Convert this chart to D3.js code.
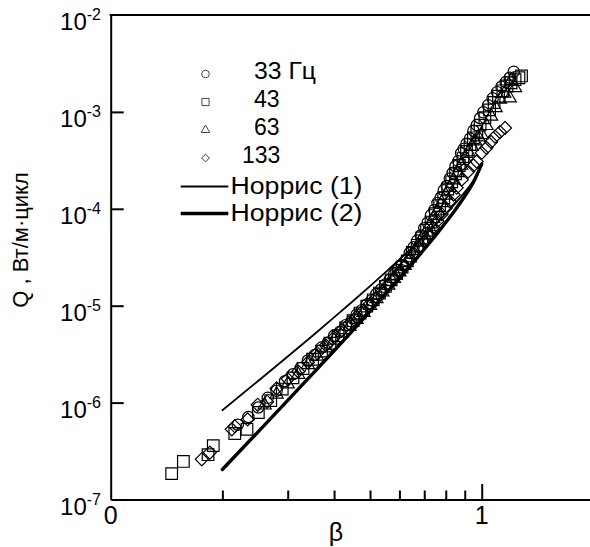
<!DOCTYPE html>
<html>
<head>
<meta charset="utf-8">
<script src="https://cdn.jsdelivr.net/npm/d3@7"></script>
<style>
  body { margin: 0; background: #fff; }
  svg { display: block; font-family: "Liberation Sans", Arial, Helvetica, sans-serif; }
</style>
</head>
<body>
<div id="chart"></div>
<script>
// Loss per cycle Q (W/m·cycle) against beta, four frequencies + two Norris curves.

// --- data ---------------------------------------------------------------
const yTicks = [1e-7, 1e-6, 1e-5, 1e-4, 1e-3, 1e-2];
const yTickExp = ['-7', '-6', '-5', '-4', '-3', '-2'];
const xMinorTicks = [0.2, 0.3, 0.4, 0.5, 0.6, 0.7, 0.8, 0.9];
const xMajorTicks = [0.1, 1];
const xTickLabels = ['0', '1'];

const legendLabels = ['33 Гц', '43', '63', '133', 'Норрис (1)', 'Норрис (2)'];

// [beta, Q]
const hz33 = [
  [0.22, 5.9e-7], [0.235, 7.1e-7], [0.25, 8.9e-7], [0.265, 1.12e-6], [0.28, 1.32e-6],
  [0.295, 1.66e-6], [0.31, 1.96e-6], [0.325, 2.28e-6], [0.34, 2.72e-6], [0.355, 3.1e-6],
  [0.37, 3.7e-6], [0.385, 4.15e-6], [0.40, 4.9e-6], [0.415, 5.4e-6], [0.43, 6.3e-6],
  [0.445, 6.9e-6], [0.46, 8.1e-6], [0.475, 9.0e-6], [0.49, 1.03e-5], [0.505, 1.14e-5],
  [0.52, 1.32e-5], [0.535, 1.47e-5], [0.55, 1.66e-5], [0.565, 1.84e-5], [0.58, 2.1e-5],
  [0.595, 2.34e-5], [0.61, 2.62e-5], [0.625, 2.95e-5], [0.64, 3.5e-5], [0.655, 4.0e-5],
  [0.67, 4.7e-5], [0.685, 5.3e-5], [0.70, 6.3e-5], [0.715, 7.2e-5], [0.73, 8.6e-5],
  [0.745, 9.7e-5], [0.76, 1.15e-4], [0.775, 1.3e-4], [0.79, 1.55e-4], [0.805, 1.72e-4],
  [0.82, 2.05e-4], [0.835, 2.35e-4], [0.85, 2.75e-4], [0.865, 3.1e-4], [0.88, 3.75e-4],
  [0.895, 4.15e-4], [0.91, 4.7e-4], [0.93, 5.3e-4], [0.95, 6.4e-4], [0.97, 7.3e-4],
  [0.99, 8.6e-4], [1.01, 9.9e-4], [1.04, 1.17e-3], [1.07, 1.38e-3], [1.10, 1.6e-3],
  [1.13, 1.82e-3], [1.16, 2.03e-3], [1.19, 2.25e-3], [1.22, 2.6e-3]
];

const hz43 = [
  [0.146, 1.85e-7], [0.157, 2.47e-7], [0.183, 2.9e-7], [0.189, 3.6e-7], [0.216, 4.8e-7],
  [0.233, 5.3e-7], [0.25, 7.9e-7], [0.27, 1.05e-6], [0.29, 1.38e-6], [0.31, 1.8e-6],
  [0.33, 2.25e-6], [0.35, 2.8e-6], [0.37, 3.4e-6], [0.39, 4.1e-6], [0.41, 4.9e-6],
  [0.43, 5.9e-6], [0.45, 7.0e-6], [0.47, 8.4e-6], [0.49, 9.9e-6], [0.51, 1.15e-5],
  [0.53, 1.35e-5], [0.55, 1.58e-5], [0.57, 1.85e-5], [0.59, 2.15e-5], [0.61, 2.5e-5],
  [0.63, 2.9e-5], [0.65, 3.55e-5], [0.67, 4.2e-5], [0.69, 5.0e-5], [0.71, 6.0e-5],
  [0.73, 7.3e-5], [0.75, 8.9e-5], [0.77, 1.08e-4], [0.79, 1.3e-4], [0.81, 1.6e-4],
  [0.83, 1.9e-4], [0.85, 2.3e-4], [0.87, 2.8e-4], [0.89, 3.3e-4], [0.91, 3.9e-4],
  [0.93, 4.6e-4], [0.95, 5.4e-4], [0.97, 6.3e-4], [0.99, 7.3e-4], [1.02, 8.7e-4],
  [1.05, 1.05e-3], [1.08, 1.25e-3], [1.11, 1.45e-3], [1.14, 1.65e-3], [1.17, 1.85e-3],
  [1.20, 2.0e-3], [1.23, 2.15e-3], [1.26, 2.25e-3], [1.28, 2.35e-3]
];

const hz63 = [
  [0.26, 9.4e-7], [0.28, 1.22e-6], [0.30, 1.55e-6], [0.32, 1.95e-6], [0.34, 2.45e-6],
  [0.36, 3.0e-6], [0.38, 3.65e-6], [0.40, 4.4e-6], [0.42, 5.2e-6], [0.44, 6.1e-6],
  [0.46, 7.2e-6], [0.48, 8.5e-6], [0.50, 1.0e-5], [0.52, 1.18e-5], [0.54, 1.38e-5],
  [0.56, 1.62e-5], [0.58, 1.9e-5], [0.60, 2.22e-5], [0.62, 2.6e-5], [0.64, 3.1e-5],
  [0.66, 3.7e-5], [0.68, 4.5e-5], [0.70, 5.4e-5], [0.72, 6.5e-5], [0.74, 7.9e-5],
  [0.76, 9.5e-5], [0.78, 1.15e-4], [0.80, 1.38e-4], [0.82, 1.65e-4], [0.84, 1.98e-4],
  [0.86, 2.35e-4], [0.88, 2.8e-4], [0.90, 3.3e-4], [0.92, 3.85e-4], [0.94, 4.4e-4],
  [0.96, 5.0e-4], [0.98, 5.5e-4], [1.00, 5.8e-4], [1.03, 7.2e-4], [1.06, 9.0e-4],
  [1.09, 1.1e-3], [1.12, 1.35e-3], [1.15, 1.55e-3], [1.19, 1.39e-3], [1.20, 2.1e-3],
  [1.23, 1.77e-3]
];

const hz133 = [
  [0.176, 2.6e-7], [0.185, 3.05e-7], [0.212, 5.3e-7], [0.216, 5.7e-7], [0.234, 6.7e-7],
  [0.249, 9.5e-7], [0.264, 1.02e-6], [0.28, 1.4e-6], [0.30, 1.75e-6], [0.32, 2.1e-6],
  [0.34, 2.6e-6], [0.36, 3.25e-6], [0.38, 3.9e-6], [0.40, 4.7e-6], [0.42, 5.6e-6],
  [0.44, 6.5e-6], [0.46, 7.7e-6], [0.48, 9.0e-6], [0.50, 1.05e-5], [0.52, 1.22e-5],
  [0.54, 1.42e-5], [0.56, 1.65e-5], [0.58, 1.92e-5], [0.60, 2.22e-5], [0.62, 2.55e-5],
  [0.64, 2.95e-5], [0.66, 3.4e-5], [0.68, 3.95e-5], [0.70, 4.6e-5], [0.72, 5.4e-5],
  [0.74, 6.4e-5], [0.76, 7.5e-5], [0.78, 8.8e-5], [0.80, 1.02e-4], [0.82, 1.2e-4],
  [0.84, 1.4e-4], [0.856, 1.65e-4], [0.883, 2.0e-4], [0.919, 2.42e-4], [0.95, 2.8e-4],
  [0.969, 3.07e-4], [1.0, 3.78e-4], [1.03, 4.26e-4], [1.06, 4.9e-4], [1.086, 5.56e-4],
  [1.12, 6.2e-4], [1.156, 6.84e-4]
];

const norrisBeta = [0.2, 0.25, 0.3, 0.35, 0.4, 0.45, 0.5, 0.55, 0.6, 0.65, 0.7, 0.75, 0.8, 0.85, 0.9, 0.95, 1.0];
const norris1Q = [8.33e-7, 1.68e-6, 2.99e-6, 4.90e-6, 7.57e-6, 1.119e-5, 1.595e-5, 2.211e-5, 3.00e-5,
  4.00e-5, 5.26e-5, 6.85e-5, 8.87e-5, 1.145e-4, 1.485e-4, 1.958e-4, 2.805e-4];
const norris2Q = [2.04e-7, 5.02e-7, 1.054e-6, 1.98e-6, 3.43e-6, 5.61e-6, 8.74e-6, 1.313e-5, 1.917e-5,
  2.733e-5, 3.826e-5, 5.28e-5, 7.23e-5, 9.85e-5, 1.348e-4, 1.880e-4, 2.905e-4];

// --- layout ---------------------------------------------------------------
const W = 590, H = 547;
const plot = { left: 110.7, top: 15, bottom: 499.5, right: 593.4 };
const ink = '#000';

const svg = d3.select('#chart').append('svg')
  .attr('width', W)
  .attr('height', H)
  .attr('viewBox', `0 0 ${W} ${H}`);

const x = d3.scaleLog().domain([0.1, 2]).range([plot.left, plot.right]);
const y = d3.scaleLog().domain([1e-7, 1e-2]).range([plot.bottom, plot.top]);

// markers
const markerSets = [
  { data: hz33, type: d3.symbolCircle, size: 100, legendSize: 46, rot: 0 },
  { data: hz43, type: d3.symbolSquare, size: 135, legendSize: 52, rot: 0 },
  { data: hz63, type: d3.symbolTriangle, size: 75, legendSize: 32, rot: 0 },
  { data: hz133, type: d3.symbolSquare, size: 85, legendSize: 30, rot: 45 },
];

const gMarks = svg.append('g').attr('class', 'markers');
markerSets.forEach(ms => {
  gMarks.append('g').selectAll('path')
    .data(ms.data)
    .join('path')
    .attr('d', d3.symbol(ms.type, ms.size))
    .attr('transform', d => `translate(${x(d[0])},${y(d[1])}) rotate(${ms.rot})`)
    .attr('fill', 'none')
    .attr('stroke', ink)
    .attr('stroke-width', 1.2);
});

// Norris curves
const line = d3.line()
  .x(d => x(d[0]))
  .y(d => y(d[1]))
  .curve(d3.curveMonotoneX);

const norrisLines = [
  { q: norris1Q, width: 1.8 },
  { q: norris2Q, width: 3.4 },
];
norrisLines.forEach(nl => {
  svg.append('path')
    .datum(norrisBeta.map((b, i) => [b, nl.q[i]]))
    .attr('d', line)
    .attr('fill', 'none')
    .attr('stroke', ink)
    .attr('stroke-width', nl.width)
    .attr('stroke-linecap', 'round');
});

// axes
const gy = svg.append('g')
  .attr('transform', `translate(${plot.left},0)`)
  .call(d3.axisLeft(y).tickValues(yTicks.slice(1, -1)).tickSize(-13).tickSizeOuter(0).tickFormat(''));

const gxMinor = svg.append('g')
  .attr('transform', `translate(0,${plot.bottom})`)
  .call(d3.axisBottom(x).tickValues(xMinorTicks).tickSize(-9).tickSizeOuter(0).tickFormat(''));

const gxMajor = svg.append('g')
  .attr('transform', `translate(0,${plot.bottom})`)
  .call(d3.axisBottom(x).tickValues([1]).tickSize(-15.5).tickSizeOuter(0).tickFormat(''));
gxMajor.select('.domain').remove();

[gy, gxMinor, gxMajor].forEach(g => {
  g.selectAll('.domain').attr('stroke', ink).attr('stroke-width', 2);
  g.selectAll('.tick line').attr('stroke', ink).attr('stroke-width', 2);
});

svg.append('line')
  .attr('x1', plot.left - 1).attr('x2', W)
  .attr('y1', plot.top).attr('y2', plot.top)
  .attr('stroke', ink).attr('stroke-width', 2);

// y tick labels: 10 with superscript exponent
const yLab = svg.append('g').attr('font-size', 24).attr('fill', ink);
yTicks.forEach((v, i) => {
  const t = yLab.append('text')
    .attr('x', 101)
    .attr('y', y(v) + 15)
    .attr('text-anchor', 'end');
  t.append('tspan').text('10');
  t.append('tspan').attr('dy', -10).attr('font-size', 16).text(yTickExp[i]);
});

// x tick labels
xMajorTicks.forEach((v, i) => {
  svg.append('text')
    .attr('x', x(v))
    .attr('y', 524)
    .attr('text-anchor', 'middle')
    .attr('font-size', 25)
    .text(xTickLabels[i]);
});

// axis titles
svg.append('text')
  .attr('x', 336)
  .attr('y', 541)
  .attr('text-anchor', 'middle')
  .attr('font-size', 25)
  .text('β');

svg.append('text')
  .attr('transform', 'translate(28,240) rotate(-90)')
  .attr('text-anchor', 'middle')
  .attr('font-size', 22)
  .text('Q , Вт/м·цикл');

// legend
const legendRows = [
  { base: 79, tx: 254, len: 62 },
  { base: 107, tx: 254, len: 0 },
  { base: 135, tx: 254, len: 0 },
  { base: 163, tx: 242, len: 0 },
  { base: 194, tx: 230.5, len: 132 },
  { base: 221, tx: 230.5, len: 132 },
];
const gLeg = svg.append('g').attr('class', 'legend');
legendRows.forEach((r, i) => {
  if (i < 4) {
    const ms = markerSets[i];
    gLeg.append('path')
      .attr('d', d3.symbol(ms.type, ms.legendSize))
      .attr('transform', `translate(205.5,${r.base - 5}) rotate(${ms.rot})`)
      .attr('fill', 'none')
      .attr('stroke', '#333')
      .attr('stroke-width', 0.9);
  } else {
    const nl = norrisLines[i - 4];
    gLeg.append('line')
      .attr('x1', 180.7).attr('x2', 228.3)
      .attr('y1', r.base - 7.5).attr('y2', r.base - 7.5)
      .attr('stroke', ink)
      .attr('stroke-width', nl.width);
  }
  const t = gLeg.append('text')
    .attr('x', r.tx)
    .attr('y', r.base)
    .attr('font-size', 23)
    .text(legendLabels[i]);
  if (r.len) t.attr('textLength', r.len).attr('lengthAdjust', 'spacingAndGlyphs');
});
</script>
</body>
</html>
